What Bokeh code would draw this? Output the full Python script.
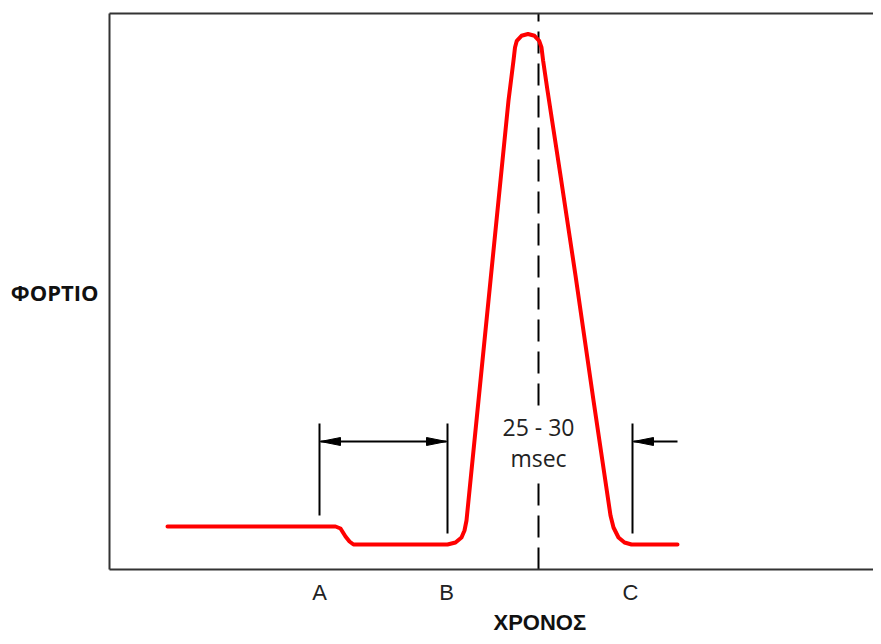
from bokeh.plotting import figure
from bokeh.models import Range1d, LinearAxis, FixedTicker, Label, Title
from bokeh.embed import file_html
from bokeh.resources import INLINE

# ---- data (schematic units: time on x, load on y) ----
curve_time = [58, 226, 231, 236, 240, 244, 338, 346, 352, 355, 357, 369, 381, 391, 399,
              404, 405.5, 407.3, 412, 418.5, 425, 429.7, 432, 433.6, 438,
              451, 466, 484, 501, 504, 509, 515, 522, 568]
curve_load = [43, 43, 41, 33, 28, 25, 25, 27, 32, 39, 49, 169, 289, 389, 469,
              509, 522, 528.7, 533.7, 535.5, 533.7, 528.7, 522, 509, 479,
              394, 294, 169, 54, 42, 32, 27, 25, 25]

tick_positions = [210, 337, 521]
tick_labels = ["A", "B", "C"]

marker_time = [210, 338, 523]
marker_top = [146, 146, 146]
marker_bottom = [54, 36, 36]

arrow_start = [211, 568]
arrow_end = [337, 524]
arrow_level = [128, 128]
head_tip = [211, 337, 524]
head_dir = [1, -1, 1]      # +1: head points left, -1: head points right
head_level = [128, 128, 128]

peak_time = 429
dash_from = [0, 164]
dash_to = [92, 556]

duration_text = ["25 - 30", "msec"]
duration_level = [143, 112]

x_title = "ΧΡΟΝΟΣ"
y_title = "ΦΟΡΤΙΟ"

# ---- figure ----
W, H = 873, 636
p = figure(width=W, height=H, output_backend="svg", toolbar_location=None,
           x_range=Range1d(0, 764), y_range=Range1d(0, 556),
           x_axis_location=None, y_axis_location=None,
           min_border_left=109, min_border_right=0, min_border_top=13, min_border_bottom=67)
p.outline_line_color = None
p.grid.visible = False
p.background_fill_color = "white"
p.border_fill_color = "white"

frame_color = "#333333"

xb = LinearAxis(ticker=FixedTicker(ticks=tick_positions),
                major_label_overrides={t: l for t, l in zip(tick_positions, tick_labels)})
xb.axis_line_color = frame_color
xb.axis_line_width = 2
xb.major_tick_line_color = None
xb.minor_tick_line_color = None
xb.major_tick_out = 0
xb.major_tick_in = 0
xb.major_label_standoff = 10
xb.major_label_text_font = "Liberation Sans"
xb.major_label_text_font_size = "22px"
xb.major_label_text_color = "#222222"
p.add_layout(xb, "below")

yl = LinearAxis(ticker=FixedTicker(ticks=[]))
yl.axis_line_color = frame_color
yl.axis_line_width = 2
yl.major_tick_line_color = None
yl.minor_tick_line_color = None
yl.major_tick_out = 0
yl.major_label_text_font_size = "0px"
yl.major_label_standoff = 0
yl.axis_label = y_title
yl.axis_label_orientation = "horizontal"
yl.axis_label_standoff = 11
yl.axis_label_text_font = "Open Sans"
yl.axis_label_text_font_style = "bold"
yl.axis_label_text_font_size = "22px"
yl.axis_label_text_color = "#111111"
p.add_layout(yl, "left")

xt = LinearAxis(ticker=FixedTicker(ticks=[]))
xt.axis_line_color = frame_color
xt.axis_line_width = 2
xt.major_tick_line_color = None
xt.minor_tick_line_color = None
xt.major_tick_out = 0
xt.major_label_text_font_size = "0px"
xt.major_label_standoff = 0
p.add_layout(xt, "above")

# bottom title placed under the peak region
p.add_layout(Title(text=x_title, align="left", offset=384, text_font="Liberation Sans",
                   text_font_style="bold", text_font_size="22px", text_color="#111111",
                   standoff=1), "below")

# dashed peak line (interrupted by the duration text)
p.segment(x0=[peak_time] * len(dash_from), y0=dash_from,
          x1=[peak_time] * len(dash_to), y1=dash_to,
          line_color="black", line_width=2, line_dash="22 10")

# load curve
p.line(curve_time, curve_load, line_color="#ff0000", line_width=4,
       line_join="round", line_cap="round")

# marker lines
p.segment(x0=marker_time, y0=marker_bottom, x1=marker_time, y1=marker_top,
          line_color="black", line_width=2)

# arrow shafts
p.segment(x0=arrow_start, y0=arrow_level, x1=arrow_end, y1=arrow_level,
          line_color="black", line_width=2)

# arrow heads (filled slender triangles)
head_len, head_half = 20, 4
hx, hy = [], []
for tip, d, lev in zip(head_tip, head_dir, head_level):
    base = tip + d * head_len
    hx.append([tip, base, base])
    hy.append([lev, lev + head_half, lev - head_half])
p.patches(hx, hy, fill_color="black", line_color="black", line_width=1)

# duration text
for txt, lev in zip(duration_text, duration_level):
    p.add_layout(Label(x=peak_time, y=lev, text=txt, text_align="center",
                       text_baseline="alphabetic", text_font="Open Sans",
                       text_font_size="23px", text_color="#222222"))

open("out.html", "w").write(file_html(p, INLINE))
